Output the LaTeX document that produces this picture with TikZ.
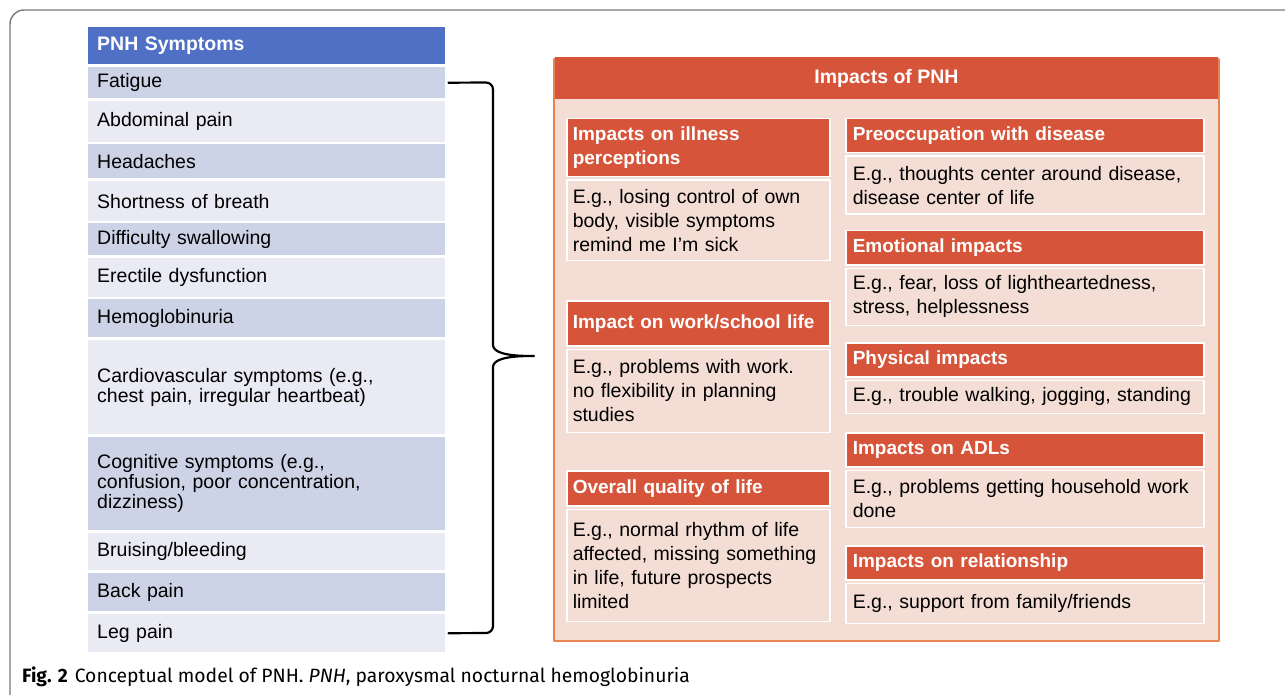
\documentclass[tikz,border=0pt]{standalone}
\usepackage{fontspec}
\setmainfont{Liberation Sans}
\newfontfamily\capfont{Fira Sans}
\usetikzlibrary{positioning}

\definecolor{pnhblue}{RGB}{79,112,196}
\definecolor{rowdark}{RGB}{205,211,230}
\definecolor{rowlight}{RGB}{233,234,243}
\definecolor{impred}{RGB}{214,84,58}
\definecolor{impedge}{RGB}{233,132,80}
\definecolor{imppink}{RGB}{243,221,213}
\definecolor{framegray}{RGB}{120,120,120}

\tikzset{
  sym/.style={rectangle, anchor=north west, minimum width=357pt, text width=339pt,
    inner xsep=9pt, inner ysep=0pt, align=left, font=\fontsize{19.5}{20}\selectfont},
  hdr/.style={rectangle, anchor=north west, fill=impred, draw=white, line width=1.5pt,
    text=white, align=left, inner xsep=6pt, inner ysep=0pt,
    font=\bfseries\fontsize{19}{24}\selectfont},
  bdy/.style={rectangle, anchor=north, fill=imppink, draw=white, line width=1.5pt,
    align=left, inner xsep=6pt, inner ysep=0pt, font=\fontsize{19.5}{24}\selectfont},
  brace/.style={line width=2.2pt, rounded corners=7pt},
}

\begin{document}
\begin{tikzpicture}[x=1pt, y=-1pt, line join=round, line cap=round]
 \useasboundingbox (0,0) rectangle (1285,695);
 % frame round the figure
 \draw[framegray, line width=1.4pt, rounded corners=14pt] (10,700) -- (10,10) -- (1290,10);

 % symptom list
 \node[sym, fill=pnhblue, text=white, font=\bfseries\fontsize{19.5}{20}\selectfont,
   minimum height=37pt] (symhead) at (88,27) {PNH Symptoms};
 \foreach \n/\yt/\yb/\shade/\txt in {
   1/67/98/rowdark/Fatigue,
   2/101/142/rowlight/Abdominal pain,
   3/144/178/rowdark/Headaches,
   4/181/221/rowlight/Shortness of breath,
   5/223/255/rowdark/Difficulty swallowing,
   6/258/297/rowlight/Erectile dysfunction,
   7/299/337/rowdark/Hemoglobinuria,
   8/340/434/rowlight/{Cardiovascular symptoms (e.g.,\\chest pain, irregular heartbeat)},
   9/437/530/rowdark/{Cognitive symptoms (e.g.,\\confusion, poor concentration,\\dizziness)},
   10/533/570/rowlight/{Bruising/bleeding},
   11/573/611/rowdark/Back pain,
   12/614/652/rowlight/Leg pain}
   \node[sym, fill=\shade, minimum height=\yb-\yt] (s\n) at (88,\yt) {\txt};

 % brace from the list to the impacts
 \coordinate (tip) at (538,356);
 \draw[brace] ([xshift=3pt]s1.east) -- (493,82.5) -- (493,338)
   .. controls (493,352) and (505,356) .. (tip)
   .. controls (505,356) and (493,360) .. (493,374) -- (493,633) -- ([xshift=3pt]s12.east);

 % impacts panel
 \node[draw=impedge, line width=2pt, fill=imppink, anchor=north west, minimum width=665pt,
   minimum height=582pt, inner sep=0pt] (imp) at (553,58) {};
 \node[fill=impred, anchor=north, minimum width=663pt, minimum height=42pt, inner sep=0pt,
   text=white, font=\bfseries\fontsize{19.5}{20}\selectfont] (imptitle) at ([yshift=1pt]imp.north) {Impacts of PNH};

 % left column
 \node[hdr, text width=251pt, minimum height=58pt] (h1) at (566,118) {Impacts on illness\\perceptions};
 \node[bdy, text width=251pt, minimum height=80pt, below=2pt of h1] (b1)
   {E.g., losing control of own\\body, visible symptoms\\remind me I'm sick};
 \node[hdr, text width=251pt, minimum height=45pt] (h2) at (566,300) {Impact on work/school life};
 \node[bdy, text width=251pt, minimum height=83pt, below=2pt of h2] (b2)
   {E.g., problems with work.\\no flexibility in planning\\studies};
 \node[hdr, text width=251pt, minimum height=35pt] (h3) at (566,470) {Overall quality of life};
 \node[bdy, text width=251pt, minimum height=112pt, below=2pt of h3] (b3)
   {E.g., normal rhythm of life\\affected, missing something\\in life, future prospects\\limited};

 % right column
 \node[hdr, inner xsep=7pt, text width=344pt, minimum height=34pt] (h4) at (845,118) {Preoccupation with disease};
 \node[bdy, inner xsep=7pt, text width=344pt, minimum height=58pt, below=2pt of h4] (b4)
   {E.g., thoughts center around disease,\\disease center of life};
 \node[hdr, inner xsep=7pt, text width=344pt, minimum height=34pt] (h5) at (845,230) {Emotional impacts};
 \node[bdy, inner xsep=7pt, text width=344pt, minimum height=57pt, below=2pt of h5] (b5)
   {E.g., fear, loss of lightheartedness,\\stress, helplessness};
 \node[hdr, inner xsep=7pt, text width=344pt, minimum height=34pt] (h6) at (845,342) {Physical impacts};
 \node[bdy, inner xsep=7pt, text width=344pt, minimum height=33pt, below=2pt of h6] (b6)
   {E.g., trouble walking, jogging, standing};
 \node[hdr, inner xsep=7pt, text width=344pt, minimum height=34pt] (h7) at (845,432) {Impacts on ADLs};
 \node[bdy, inner xsep=7pt, text width=344pt, minimum height=57pt, below=2pt of h7] (b7)
   {E.g., problems getting household work\\done};
 \node[hdr, inner xsep=7pt, text width=344pt, minimum height=34pt] (h8) at (845,545) {Impacts on relationship};
 \node[bdy, inner xsep=7pt, text width=344pt, minimum height=40pt, below=2pt of h8] (b8)
   {E.g., support from family/friends};

 % caption
 \node[anchor=base west, inner sep=0pt, font=\capfont\fontsize{19.3}{21}\selectfont] (cap) at (22,682)
   {\textbf{Fig. 2}\hspace{7pt}Conceptual model of PNH. \textit{PNH}, paroxysmal nocturnal hemoglobinuria};
\end{tikzpicture}
\end{document}
